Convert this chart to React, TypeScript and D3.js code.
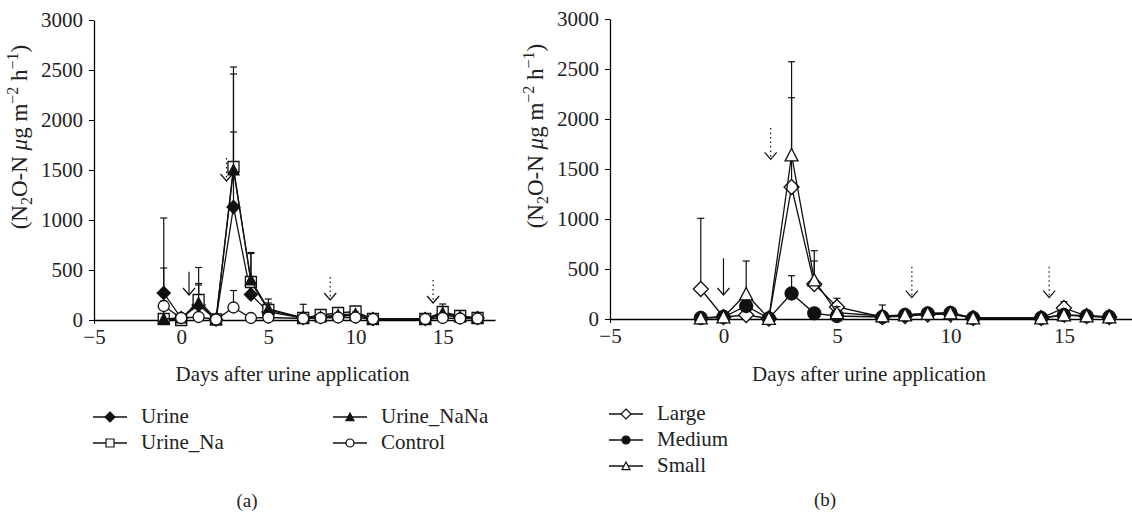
import { useEffect, useRef } from 'react';
import * as d3 from 'd3';

const days = [-1, 0, 1, 2, 3, 4, 5, 7, 8, 9, 10, 11, 14, 15, 16, 17];
const xTicks = [-5, 0, 5, 10, 15];
const yTicks = [0, 500, 1000, 1500, 2000, 2500, 3000];

// panel (a) treatments, mean and upper error
const urine = [270, 20, 150, 5, 1130, 255, 80, 20, 30, 40, 50, 10, 10, 50, 30, 20];
const urineNa = [10, 0, 200, 5, 1530, 380, 100, 20, 50, 70, 85, 10, 10, 80, 40, 20];
const urineNaNa = [10, 20, 170, 5, 1500, 400, 110, 20, 30, 50, 60, 10, 10, 70, 30, 20];
const control = [140, 20, 30, 5, 125, 20, 25, 15, 20, 25, 25, 10, 10, 20, 15, 15];
const urineErr = [750, 10, 200, 5, 750, 150, 60, 15, 15, 15, 20, 5, 5, 20, 10, 10];
const urineNaErr = [10, 5, 325, 5, 1000, 295, 70, 20, 20, 20, 25, 5, 5, 40, 15, 10];
const urineNaNaErr = [510, 10, 195, 5, 960, 265, 100, 137, 20, 20, 20, 5, 5, 90, 15, 10];
const controlErr = [50, 10, 20, 5, 170, 10, 20, 10, 10, 10, 10, 5, 5, 10, 10, 10];

// panel (b) patch sizes
const large = [300, 20, 40, 5, 1320, 350, 120, 20, 30, 45, 50, 10, 10, 110, 30, 20];
const medium = [10, 20, 130, 5, 255, 57, 30, 20, 40, 55, 60, 10, 10, 40, 30, 20];
const small = [10, 20, 250, 5, 1640, 390, 63, 30, 40, 55, 60, 10, 10, 40, 30, 20];
const largeErr = [707, 10, 30, 5, 893, 230, 87, 20, 20, 20, 20, 5, 5, 63, 15, 10];
const mediumErr = [10, 10, 40, 5, 178, 30, 20, 15, 15, 15, 15, 5, 5, 15, 10, 10];
const smallErr = [10, 10, 330, 5, 933, 293, 60, 110, 20, 20, 20, 5, 5, 30, 15, 10];

// application arrows (day, top, tip) – solid = urine, dotted = later events
const arrowsA = [
  { day: 0.45, top: 483, tip: 250, dotted: false },
  { day: 2.6, top: 1620, tip: 1390, dotted: true },
  { day: 8.55, top: 430, tip: 200, dotted: true },
  { day: 14.45, top: 400, tip: 170, dotted: true },
];
const arrowsB = [
  { day: 0, top: 607, tip: 240, dotted: false },
  { day: 2.08, top: 1910, tip: 1597, dotted: true },
  { day: 8.3, top: 523, tip: 213, dotted: true },
  { day: 14.35, top: 523, tip: 213, dotted: true },
];

const FONT = '"Liberation Serif", "Times New Roman", serif';
const FS = 21;

type Shape = 'diamond' | 'square' | 'triangle' | 'circle';

function markerPath(shape: Shape, s: number) {
  const h = s / 2;
  if (shape === 'square') return `M${-h},${-h}H${h}V${h}H${-h}Z`;
  if (shape === 'diamond') return `M0,${-h - 1}L${h + 1},0L0,${h + 1}L${-h - 1},0Z`;
  if (shape === 'triangle') return `M0,${-h}L${h},${h * 0.9}L${-h},${h * 0.9}Z`;
  const p = d3.path();
  p.arc(0, 0, h, 0, Math.PI * 2);
  p.closePath();
  return p.toString();
}

type Series = { name: string; values: number[]; err: number[]; shape: Shape; filled: boolean };

function Panel({ left, right, top, bottom, series, arrows, size, legend, titleX, label, labelX, labelY }: any) {
  const x = d3.scaleLinear().domain([-5, 18]).range([left, right]);
  const y = d3.scaleLinear().domain([0, 3000]).range([bottom, top]);
  const gx = useRef<SVGGElement>(null);
  const gy = useRef<SVGGElement>(null);

  useEffect(() => {
    d3.select(gx.current)
      .call(d3.axisBottom(x).tickValues(xTicks).tickSize(4).tickPadding(5).tickSizeOuter(0) as any)
      .call(g => g.select('.domain').attr('stroke-width', 1.3))
      .call(g => g.selectAll('text').attr('font-family', FONT).attr('font-size', FS).attr('fill', '#222')
        .text((d: any) => (d < 0 ? '\u2212' + Math.abs(d) : String(d))));
    d3.select(gy.current)
      .call(d3.axisLeft(y).tickValues(yTicks).tickSize(5).tickPadding(6).tickSizeOuter(0).tickFormat(d3.format('d')) as any)
      .call(g => g.select('.domain').attr('stroke-width', 1.3))
      .call(g => g.selectAll('text').attr('font-family', FONT).attr('font-size', FS).attr('fill', '#222'));
  }, [gx, gy, x, y]);

  const line = d3.line<number>().x((_, i) => x(days[i])).y(d => y(d));

  return (
    <g>
      <g ref={gx} transform={`translate(0,${bottom})`} />
      <g ref={gy} transform={`translate(${left},0)`} />
      <text transform={`translate(${titleX},${(top + bottom) / 2 - 33}) rotate(-90)`} textAnchor="middle"
        fontFamily={FONT} fontSize={23} fill="#222">
        (N<tspan dy={5} fontSize={16}>2</tspan><tspan dy={-5}>O-N </tspan>
        <tspan fontStyle="italic">μ</tspan>g m<tspan dy={-9} fontSize={16}>−2</tspan>
        <tspan dy={9}> h</tspan><tspan dy={-9} fontSize={16}>−1</tspan><tspan dy={9}>)</tspan>
      </text>
      <text x={(left + right) / 2 - 2} y={381} textAnchor="middle" fontFamily={FONT} fontSize={FS} fill="#222">
        Days after urine application
      </text>
      {arrows.map((a: any, i: number) => {
        const ax = x(a.day), y0 = y(a.top), y1 = y(a.tip);
        return (
          <g key={i} stroke="#111" fill="none" strokeWidth={1.2}>
            <line x1={ax} x2={ax} y1={y0} y2={y1 - 1} strokeDasharray={a.dotted ? '1.5,3' : undefined} />
            <polyline points={`${ax - 6},${y1 - 7} ${ax},${y1} ${ax + 6},${y1 - 7}`} />
          </g>
        );
      })}
      {series.map((s: Series) => (
        <g key={s.name}>
          {s.values.map((v, i) => {
            const ex = x(days[i]), yt = y(v + s.err[i]);
            return (
              <g key={i} stroke="#111" strokeWidth={1.2}>
                <line x1={ex} x2={ex} y1={y(v)} y2={yt} />
                <line x1={ex - 3.5} x2={ex + 3.5} y1={yt} y2={yt} />
              </g>
            );
          })}
          <path d={line(s.values) ?? ''} fill="none" stroke="#111" strokeWidth={1.3} />
          {s.values.map((v, i) => (
            <path key={i} d={markerPath(s.shape, size)} transform={`translate(${x(days[i])},${y(v)})`}
              fill={s.filled ? '#111' : '#fff'} stroke="#111" strokeWidth={1.3} />
          ))}
        </g>
      ))}
      {legend.map((l: any) => (
        <g key={l.s.name} transform={`translate(${l.x},${l.y})`}>
          <line x1={0} x2={34} y1={-6} y2={-6} stroke="#111" strokeWidth={1.3} />
          <path d={markerPath(l.s.shape, 8)} transform="translate(17,-6)" fill={l.s.filled ? '#111' : '#fff'}
            stroke="#111" strokeWidth={1.2} />
          <text x={48} y={0} fontFamily={FONT} fontSize={FS} fill="#222">{l.s.name}</text>
        </g>
      ))}
      <text x={labelX} y={labelY} textAnchor="middle" fontFamily={FONT} fontSize={FS - 2} fill="#222">{label}</text>
    </g>
  );
}

export default function App() {
  const seriesA: Series[] = [
    { name: 'Urine', values: urine, err: urineErr, shape: 'diamond', filled: true },
    { name: 'Urine_Na', values: urineNa, err: urineNaErr, shape: 'square', filled: false },
    { name: 'Urine_NaNa', values: urineNaNa, err: urineNaNaErr, shape: 'triangle', filled: true },
    { name: 'Control', values: control, err: controlErr, shape: 'circle', filled: false },
  ];
  const seriesB: Series[] = [
    { name: 'Large', values: large, err: largeErr, shape: 'diamond', filled: false },
    { name: 'Medium', values: medium, err: mediumErr, shape: 'circle', filled: true },
    { name: 'Small', values: small, err: smallErr, shape: 'triangle', filled: false },
  ];
  const legendA = [
    { s: seriesA[0], x: 93, y: 423 },
    { s: seriesA[1], x: 93, y: 449 },
    { s: seriesA[2], x: 333, y: 423 },
    { s: seriesA[3], x: 333, y: 449 },
  ];
  const legendB = [
    { s: seriesB[0], x: 609, y: 420 },
    { s: seriesB[1], x: 609, y: 446 },
    { s: seriesB[2], x: 609, y: 472 },
  ];
  return (
    <svg width={1132} height={515} style={{ position: 'absolute', left: 0, top: 0, background: '#fff' }}>
      <Panel left={94} right={495} top={20} bottom={320} series={seriesA} arrows={arrowsA} size={11}
        legend={legendA} titleX={27} label="(a)" labelX={247} labelY={507} />
      <Panel left={610} right={1132} top={19} bottom={319} series={seriesB} arrows={arrowsB} size={13}
        legend={legendB} titleX={543} label="(b)" labelX={825} labelY={506} />
    </svg>
  );
}
